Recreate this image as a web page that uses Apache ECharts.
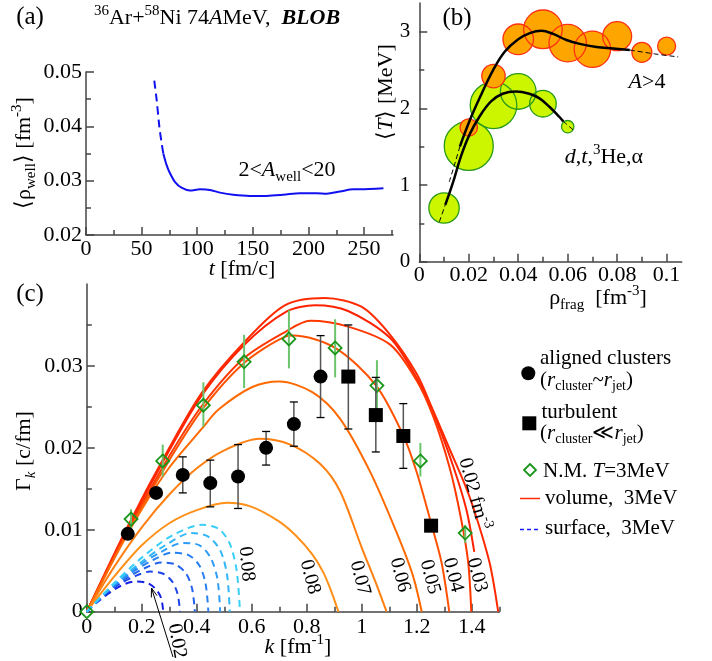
<!DOCTYPE html>
<html>
<head>
<meta charset="utf-8">
<title>36Ar+58Ni BLOB</title>
<script src="https://cdn.jsdelivr.net/npm/echarts@6/dist/echarts.min.js"></script>
<style>
  html, body { margin: 0; padding: 0; background: #fff; }
  #main { width: 712px; height: 661px; }
</style>
</head>
<body>
<div id="main"></div>
<script>
// ---------- (a) <rho_well> vs t ----------
var tDash = [61.4, 63.5, 65.9, 68, 69.5];
var rhoDash = [0.0484, 0.0449, 0.0400, 0.0369, 0.0350];
var tSolid = [69.5, 72.4, 75.4, 79.9, 85.9, 93.4, 102.4, 111.4, 120.4, 132.4, 147.4, 162.4, 177.4, 192.4, 207.4, 216.4, 228.4, 240.4, 246.4, 267.4];
var rhoSolid = [0.0350, 0.0329, 0.0314, 0.0298, 0.0287, 0.0282, 0.0284, 0.0283, 0.0278, 0.0274, 0.0272, 0.0272, 0.0274, 0.0277, 0.0277, 0.0276, 0.0280, 0.0284, 0.0284, 0.0286];

// ---------- (b) <T> vs rho_frag ----------
var rhoBig = [0.02, 0.03, 0.04, 0.05, 0.06, 0.07, 0.08, 0.09, 0.10];
var tempBig = [1.75, 2.42, 2.90, 3.03, 2.85, 2.77, 2.94, 2.73, 2.81];
var wBig = [8.7, 11.7, 15.3, 19.3, 18.7, 18.2, 14.5, 10, 9];
var rhoLight = [0.01, 0.02, 0.03, 0.04, 0.05, 0.06];
var tempLight = [0.70, 1.51, 2.04, 2.22, 2.06, 1.76];
var wLight = [15.2, 24.5, 23.3, 17.8, 13.3, 6.2];

var fitBigDashA = [[0.0121, 1.04], [0.0142, 1.26], [0.0164, 1.50]];
var fitBig = [[0.0164, 1.50], [0.0205, 1.85], [0.0252, 2.19], [0.0299, 2.50], [0.0346, 2.74], [0.040, 2.90], [0.0447, 2.98], [0.0494, 3.01], [0.0541, 2.97], [0.0595, 2.89], [0.0649, 2.84], [0.0716, 2.80], [0.0784, 2.78], [0.0851, 2.76]];
var fitBigDashB = [[0.0851, 2.76], [0.095, 2.71], [0.1047, 2.67]];
var fitLightDashA = [[0.0081, 0.52], [0.0105, 0.74]];
var fitLight = [[0.0105, 0.74], [0.0135, 1.02], [0.0168, 1.37], [0.0202, 1.65], [0.0243, 1.89], [0.029, 2.09], [0.0337, 2.19], [0.0391, 2.22], [0.0445, 2.19], [0.0486, 2.13], [0.0526, 2.02], [0.0566, 1.89], [0.0582, 1.83]];
var fitLightDashB = [[0.0582, 1.83], [0.0629, 1.70]];

// ---------- (c) Gamma_k vs k ----------
var alignK = [0.149, 0.252, 0.349, 0.449, 0.55, 0.652, 0.753, 0.85];
var alignG = [0.0095, 0.0145, 0.0167, 0.0157, 0.0165, 0.0200, 0.0229, 0.0287];
var alignLo = [null, null, 0.0145, 0.0128, 0.0126, 0.0179, 0.0202, 0.0237];
var alignHi = [null, null, 0.0189, 0.0185, 0.0204, 0.0220, 0.0256, 0.0337];

var turbK = [0.951, 1.051, 1.151, 1.252];
var turbG = [0.0287, 0.0240, 0.02145, 0.0105];
var turbLo = [0.0223, 0.0195, 0.0175, null];
var turbHi = [0.0350, 0.0286, 0.0254, null];

var nmK = [0, 0.161, 0.276, 0.424, 0.572, 0.735, 0.903, 1.055, 1.213, 1.376];
var nmG = [0, 0.0113, 0.0184, 0.0252, 0.0305, 0.0333, 0.0322, 0.0276, 0.0184, 0.0096];
var nmLo = [null, 0.0100, 0.0165, 0.0226, 0.0273, 0.0297, 0.0286, 0.0244, 0.0165, 0.0084];
var nmHi = [null, 0.0125, 0.0204, 0.0280, 0.0338, 0.0368, 0.0357, 0.0307, 0.0206, 0.0106];

// volume instability, 3 MeV
var vol002K = [0, 0.15, 0.3, 0.42, 0.57, 0.724, 0.83, 0.95, 1.103, 1.2, 1.26, 1.33, 1.38, 1.409];
var vol002G = [0, 0.0103, 0.0197, 0.0265, 0.0325, 0.0366, 0.0374, 0.0367, 0.0334, 0.0285, 0.0243, 0.0180, 0.0125, 0.0073];
var vol003K = [0, 0.15, 0.3, 0.42, 0.57, 0.72, 0.866, 1.0, 1.103, 1.2, 1.26, 1.32, 1.381, 1.42, 1.466, 1.496];
var vol003G = [0, 0.0105, 0.0200, 0.0268, 0.0328, 0.0374, 0.0383, 0.0372, 0.0338, 0.0290, 0.0245, 0.0198, 0.0150, 0.0112, 0.0058, 0];
var vol004K = [0, 0.15, 0.3, 0.42, 0.57, 0.724, 0.812, 0.95, 1.103, 1.2, 1.26, 1.32, 1.36, 1.387, 1.398];
var vol004G = [0, 0.0100, 0.0190, 0.0252, 0.0309, 0.0342, 0.0355, 0.0348, 0.0326, 0.0282, 0.0238, 0.0175, 0.0115, 0.0060, 0];
var vol005K = [0, 0.15, 0.3, 0.42, 0.57, 0.724, 0.75, 0.903, 1.052, 1.151, 1.2, 1.252, 1.29, 1.318];
var vol005G = [0, 0.0098, 0.0185, 0.0247, 0.0303, 0.0336, 0.0337, 0.0322, 0.0276, 0.0215, 0.0170, 0.0108, 0.0060, 0];
var vol006K = [0, 0.1, 0.2, 0.3, 0.42, 0.48, 0.6, 0.7, 0.82, 0.92, 1.03, 1.125, 1.185, 1.218];
var vol006G = [0, 0.0065, 0.0125, 0.0176, 0.0224, 0.0247, 0.0274, 0.0281, 0.0268, 0.0236, 0.0171, 0.0098, 0.0045, 0];
var vol007K = [0, 0.1, 0.2, 0.3, 0.4, 0.5, 0.627, 0.74, 0.85, 0.921, 1.0, 1.05, 1.09];
var vol007G = [0, 0.0055, 0.0103, 0.0143, 0.0175, 0.0197, 0.0211, 0.0204, 0.0180, 0.0147, 0.0078, 0.0036, 0];
var vol008K = [0, 0.1, 0.2, 0.3, 0.4, 0.51, 0.6, 0.7, 0.76, 0.82, 0.86, 0.89, 0.915];
var vol008G = [0, 0.0043, 0.0081, 0.0108, 0.0124, 0.0133, 0.0128, 0.0110, 0.0093, 0.0070, 0.0048, 0.0024, 0];

// surface instability, 3 MeV
var srf002K = [0, 0.05, 0.1, 0.14, 0.18, 0.22, 0.25, 0.27, 0.278];
var srf002G = [0, 0.0015, 0.0027, 0.0034, 0.0037, 0.0035, 0.0028, 0.0017, 0];
var srf003K = [0, 0.06, 0.12, 0.18, 0.23, 0.28, 0.31, 0.33, 0.339];
var srf003G = [0, 0.0019, 0.0034, 0.0044, 0.0049, 0.0046, 0.0037, 0.0022, 0];
var srf004K = [0, 0.07, 0.14, 0.21, 0.27, 0.32, 0.36, 0.383, 0.393];
var srf004G = [0, 0.0023, 0.0040, 0.0053, 0.0060, 0.0058, 0.0047, 0.0028, 0];
var srf005K = [0, 0.08, 0.16, 0.24, 0.31, 0.37, 0.41, 0.432, 0.442];
var srf005G = [0, 0.0026, 0.0047, 0.0063, 0.0072, 0.0069, 0.0056, 0.0034, 0];
var srf006K = [0, 0.09, 0.18, 0.27, 0.35, 0.41, 0.45, 0.475, 0.485];
var srf006G = [0, 0.0030, 0.0054, 0.0073, 0.0084, 0.0081, 0.0066, 0.0040, 0];
var srf007K = [0, 0.1, 0.2, 0.29, 0.38, 0.44, 0.485, 0.51, 0.52];
var srf007G = [0, 0.0034, 0.0061, 0.0082, 0.0096, 0.0092, 0.0075, 0.0045, 0];
var srf008K = [0, 0.1, 0.2, 0.31, 0.42, 0.48, 0.52, 0.545, 0.557];
var srf008G = [0, 0.0035, 0.0066, 0.0093, 0.0106, 0.0101, 0.0083, 0.0050, 0];

// tick values
var aXMajor = [0, 50, 100, 150, 200, 250];
var aXMinor = [25, 75, 125, 175, 225, 275];
var aYMajor = [0.02, 0.03, 0.04, 0.05];
var aYMinor = [0.025, 0.035, 0.045];
var bXMajor = [0, 0.02, 0.04, 0.06, 0.08, 0.1];
var bXMinor = [0.01, 0.03, 0.05, 0.07, 0.09];
var bYMajor = [0, 1, 2, 3];
var bYMinor = [0.5, 1.5, 2.5];
var cXMajor = [0, 0.2, 0.4, 0.6, 0.8, 1, 1.2, 1.4];
var cXMinor = [0.1, 0.3, 0.5, 0.7, 0.9, 1.1, 1.3, 1.5];
var cYMajor = [0, 0.01, 0.02, 0.03];
var cYMinor = [0.005, 0.015, 0.025, 0.035];

var SERIF = 'Liberation Serif';
var AX = '#444';

function zip(a, b) { return a.map(function (v, i) { return [v, b[i]]; }); }

function richSet(fs) {
  var s = Math.round(fs * 0.68), lh = Math.round(fs * 1.3);
  function st(o) { return Object.assign({fontFamily: SERIF, fill: '#000', color: '#000'}, o); }
  return {
    n: st({fontSize: fs, lineHeight: lh}),
    i: st({fontSize: fs, lineHeight: lh, fontStyle: 'italic'}),
    bi: st({fontSize: fs, lineHeight: lh, fontStyle: 'italic', fontWeight: 'bold'}),
    sub: st({fontSize: s, lineHeight: s, verticalAlign: 'bottom'}),
    isub: st({fontSize: s, lineHeight: s, verticalAlign: 'bottom', fontStyle: 'italic'}),
    sup: st({fontSize: s, lineHeight: s, verticalAlign: 'top'})
  };
}

function txt(x, y, s, fs, rot, align) {
  return {
    type: 'text', x: x, y: y, rotation: (rot || 0) * Math.PI / 180, z: 100, silent: true,
    style: {text: s, rich: richSet(fs), align: align || 'center', verticalAlign: 'middle',
      fill: '#000', font: fs + 'px ' + SERIF}
  };
}

function axisPair(dim, grid, min, max, majors, minors, margin, fs) {
  var pos = dim === 'x' ? 'bottom' : 'left';
  var main = {
    gridIndex: grid, type: 'value', min: min, max: max, position: pos,
    splitLine: {show: false},
    axisLine: {show: true, onZero: false, lineStyle: {color: AX, width: 1.5}},
    axisTick: {show: true, inside: true, length: 8, customValues: majors, lineStyle: {color: AX, width: 1.5}},
    axisLabel: {show: true, customValues: majors, margin: margin, color: '#000',
      fontFamily: SERIF, fontSize: fs || 22,
      formatter: function (v) { return String(+(+v).toFixed(4)); }}
  };
  var minor = {
    gridIndex: grid, type: 'value', min: min, max: max, position: pos,
    splitLine: {show: false},
    axisLine: {show: false, onZero: false},
    axisTick: {show: true, inside: true, length: 5, customValues: minors, lineStyle: {color: AX, width: 1.5}},
    axisLabel: {show: false}
  };
  return [main, minor];
}

var xAxes = [].concat(
  axisPair('x', 0, 0, 276, aXMajor, aXMinor, 3),
  axisPair('x', 1, 0, 0.1061, bXMajor, bXMinor, 3),
  axisPair('x', 2, 0, 1.5, cXMajor, cXMinor, 5)
);
var yAxes = [].concat(
  axisPair('y', 0, 0.02, 0.05, aYMajor, aYMinor, 4),
  axisPair('y', 1, 0, 3.373, bYMajor, bYMinor, 9, 21),
  axisPair('y', 2, 0, 0.04, cYMajor, cYMinor, 4)
);

function errorBars(xs, lo, hi, color, capColor, cap, width, z) {
  var data = [];
  xs.forEach(function (x, i) { if (lo[i] != null) data.push([x, lo[i], hi[i]]); });
  return {
    type: 'custom', xAxisIndex: 4, yAxisIndex: 4, data: data, z: z, silent: true,
    encode: {x: 0, y: [1, 2]},
    renderItem: function (params, api) {
      var p1 = api.coord([api.value(0), api.value(1)]);
      var p2 = api.coord([api.value(0), api.value(2)]);
      var kids = [{type: 'line', shape: {x1: p1[0], y1: p1[1], x2: p2[0], y2: p2[1]},
        style: {stroke: color, lineWidth: width}}];
      if (cap) {
        [p1, p2].forEach(function (p) {
          kids.push({type: 'line', shape: {x1: p[0] - cap, y1: p[1], x2: p[0] + cap, y2: p[1]},
            style: {stroke: capColor, lineWidth: 1.3}});
        });
      }
      return {type: 'group', children: kids};
    }
  };
}

function line(grid, data, color, width, dash, z, smooth) {
  return {
    type: 'line', xAxisIndex: grid * 2, yAxisIndex: grid * 2, data: data,
    showSymbol: false, symbol: 'none', smooth: smooth === undefined ? 0.35 : smooth,
    lineStyle: {color: color, width: width, type: dash || 'solid'}, z: z || 3, silent: true
  };
}

var volCurves = [
  [vol002K, vol002G, '#ff2200'], [vol003K, vol003G, '#ff2a00'], [vol004K, vol004G, '#ff3800'],
  [vol005K, vol005G, '#ff5200'], [vol006K, vol006G, '#ff6a00'], [vol007K, vol007G, '#ff7f10'],
  [vol008K, vol008G, '#ff9018']
];
var srfCurves = [
  [srf002K, srf002G, '#1420e0'], [srf003K, srf003G, '#1c44e8'], [srf004K, srf004G, '#2262ee'],
  [srf005K, srf005G, '#2880f2'], [srf006K, srf006G, '#2e9cf6'], [srf007K, srf007G, '#33b6f8'],
  [srf008K, srf008G, '#38cef8']
];

var series = [];
// (a)
series.push(line(0, zip(tDash, rhoDash), '#1010f0', 2, [8, 5], 3, 0.3));
series.push(line(0, zip(tSolid, rhoSolid), '#1010f0', 2, 'solid', 3, 0.3));

// (b) bubbles
function bubbles(xs, ys, ws, fill, border, z, fillOnly) {
  return {
    type: 'scatter', xAxisIndex: 2, yAxisIndex: 2, z: z, silent: true,
    data: xs.map(function (x, i) { return [x, ys[i], ws[i]]; }),
    symbol: 'circle',
    symbolSize: function (v) { return 2 * v[2]; },
    itemStyle: fillOnly ? {color: fill, borderWidth: 0, opacity: 1}
      : {color: 'rgba(0,0,0,0)', borderColor: border, borderWidth: 1.3, opacity: 1}
  };
}
series.push(bubbles(rhoLight, tempLight, wLight, '#ccf500', '#2a9a1a', 2, true));
series.push(bubbles(rhoLight, tempLight, wLight, '#ccf500', '#2a9a1a', 3, false));
series.push(bubbles(rhoBig, tempBig, wBig, '#ffa500', '#ff3010', 4, true));
series.push(bubbles(rhoBig, tempBig, wBig, '#ffa500', '#ff3010', 5, false));
series.push(line(1, fitBigDashA, '#000', 1, [5, 3], 6, 0.2));
series.push(line(1, fitBig, '#000', 2.5, 'solid', 6, 0.4));
series.push(line(1, fitBigDashB, '#000', 1, [5, 3], 6, 0.2));
series.push(line(1, fitLightDashA, '#000', 1, [5, 3], 6, 0.2));
series.push(line(1, fitLight, '#000', 2.5, 'solid', 6, 0.4));
series.push(line(1, fitLightDashB, '#000', 1, [5, 3], 6, 0.2));

// (c) curves
volCurves.forEach(function (c) { series.push(line(2, zip(c[0], c[1]), c[2], 2, 'solid', 3, 0.3)); });
srfCurves.forEach(function (c) { series.push(line(2, zip(c[0], c[1]), c[2], 2, [7, 5], 3, 0.3)); });

series.push(errorBars(nmK, nmLo, nmHi, '#6cc46c', '#6cc46c', 0, 2, 6));
series.push({
  type: 'scatter', xAxisIndex: 4, yAxisIndex: 4, z: 7, silent: true,
  data: zip(nmK, nmG), symbol: 'diamond', symbolSize: 13,
  itemStyle: {color: 'rgba(0,0,0,0)', borderColor: '#1a961a', borderWidth: 1.8, opacity: 1}
});
series.push(errorBars(alignK, alignLo, alignHi, '#555', '#000', 4, 1.5, 8));
series.push(errorBars(turbK, turbLo, turbHi, '#555', '#000', 4, 1.5, 8));
series.push({
  type: 'scatter', xAxisIndex: 4, yAxisIndex: 4, z: 9, silent: true,
  data: zip(alignK, alignG), symbol: 'circle', symbolSize: 14, itemStyle: {color: '#000', opacity: 1}
});
series.push({
  type: 'scatter', xAxisIndex: 4, yAxisIndex: 4, z: 9, silent: true,
  data: zip(turbK, turbG), symbol: 'rect', symbolSize: 14, itemStyle: {color: '#000', opacity: 1}
});

// arrow for the 0.02 surface curve
var tip = [151.5, 588], tail = [173, 657];
var ux = tip[0] - tail[0], uy = tip[1] - tail[1], L = Math.sqrt(ux * ux + uy * uy);
ux /= L; uy /= L;
var bx = tip[0] - 9 * ux, by = tip[1] - 9 * uy;

var graphics = [
  txt(30, 17, '{n|(a)}', 25),
  txt(457, 18, '{n|(b)}', 25),
  txt(30, 294, '{n|(c)}', 25),
  txt(217, 18, '{sup|36}{n|Ar+}{sup|58}{n|Ni 74}{i|A}{n|MeV,  }{bi|BLOB}', 22),
  txt(24, 153, '{n|⟨ρ}{sub|well}{n|⟩ [fm}{sup|-3}{n|]}', 22, 90),
  txt(242, 269, '{i|t}{n| [fm/c]}', 22),
  txt(287, 170, '{n|2<}{i|A}{sub|well}{n|<20}', 22),
  txt(386, 92, '{n|⟨}{i|T}{n|⟩ [MeV]}', 22, 90),
  txt(598, 298, '{n|ρ}{sub|frag}{n|  [fm}{sup|-3}{n|]}', 22),
  txt(647, 82, '{i|A}{n|>4}', 22),
  txt(604, 157, '{i|d}{n|,}{i|t}{n|,}{sup|3}{n|He,α}', 22),
  txt(24, 451, '{n|Γ}{isub|k}{n| [c/fm]}', 22, 90),
  txt(298, 647, '{i|k}{n| [fm}{sup|-1}{n|]}', 22),
  txt(310, 577, '{n|0.08}', 20, -75),
  txt(360, 578, '{n|0.07}', 20, -75),
  txt(400, 575, '{n|0.06}', 20, -75),
  txt(430, 577, '{n|0.05}', 20, -75),
  txt(453, 575, '{n|0.04}', 20, -75),
  txt(477, 575, '{n|0.03}', 20, -75),
  txt(474, 494, '{n|0.02 fm}{sup|-3}', 20, -75),
  txt(246.5, 564, '{n|0.08}', 20, -85),
  txt(177, 641, '{n|0.02}', 20, -80),
  {type: 'polyline', z: 100, silent: true, shape: {points: [tail, tip]}, style: {stroke: '#000', lineWidth: 1, fill: null}},
  {type: 'polyline', z: 100, silent: true,
    shape: {points: [[bx + 3 * uy, by - 3 * ux], tip, [bx - 3 * uy, by + 3 * ux]]},
    style: {stroke: '#000', lineWidth: 1, fill: null}},
  // legend of (c)
  {type: 'circle', z: 100, silent: true, shape: {cx: 528.3, cy: 373.3, r: 7}, style: {fill: '#000'}},
  {type: 'rect', z: 100, silent: true, shape: {x: 522.3, y: 416.3, width: 14, height: 14}, style: {fill: '#000'}},
  {type: 'polygon', z: 100, silent: true, shape: {points: [[530, 464], [536, 470], [530, 476], [524, 470]]},
    style: {fill: null, stroke: '#1a961a', lineWidth: 1.8}},
  {type: 'line', z: 100, silent: true, shape: {x1: 520, y1: 498.5, x2: 540, y2: 498.5}, style: {stroke: '#ff2a00', lineWidth: 1.5}},
  {type: 'line', z: 100, silent: true, shape: {x1: 520, y1: 529.5, x2: 540, y2: 529.5}, style: {stroke: '#1a1aff', lineWidth: 1.5, lineDash: [4, 3]}},
  txt(540, 358, '{n|aligned clusters}', 21, 0, 'left'),
  txt(540, 380, '{n|(}{i|r}{sub|cluster}{n|~}{i|r}{sub|jet}{n|)}', 21, 0, 'left'),
  txt(541.5, 412, '{n|turbulent}', 21, 0, 'left'),
  txt(540, 433, '{n|(}{i|r}{sub|cluster}{n|≪}{i|r}{sub|jet}{n|)}', 21, 0, 'left'),
  txt(543, 471, '{n|N.M. }{i|T}{n|=3MeV}', 21, 0, 'left'),
  txt(545, 498.5, '{n|volume,  3MeV}', 21, 0, 'left'),
  txt(545, 528.5, '{n|surface,  3MeV}', 21, 0, 'left')
];

var chart = echarts.init(document.getElementById('main'), null, {renderer: 'canvas'});
chart.setOption({
  animation: false,
  backgroundColor: '#fff',
  grid: [
    {left: 86, top: 72, width: 307, height: 163, containLabel: false, outerBoundsMode: 'none'},
    {left: 419.3, top: 3, width: 262.4, height: 258.7, containLabel: false, outerBoundsMode: 'none'},
    {left: 86.8, top: 284, width: 412.5, height: 327.7, containLabel: false, outerBoundsMode: 'none'}
  ],
  xAxis: xAxes,
  yAxis: yAxes,
  series: series,
  graphic: graphics
});
</script>
</body>
</html>
